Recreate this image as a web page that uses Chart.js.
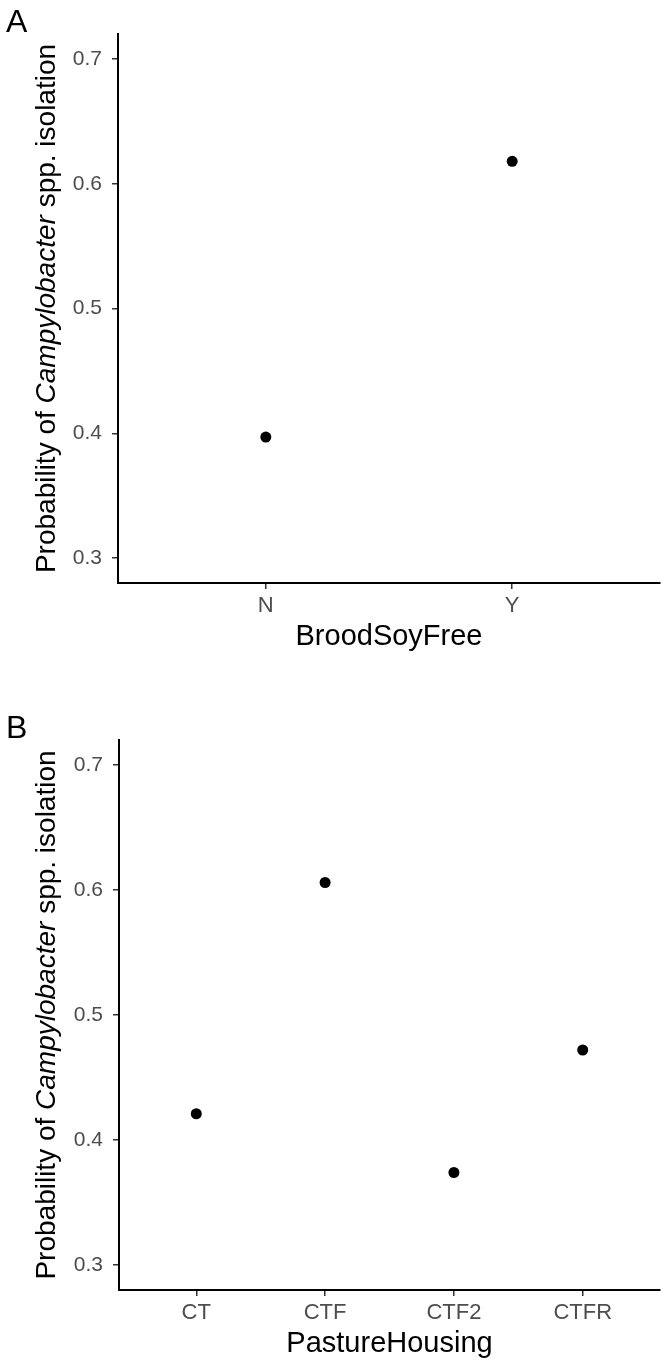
<!DOCTYPE html>
<html>
<head>
<meta charset="utf-8">
<script src="https://cdn.jsdelivr.net/npm/chart.js@4.4.1/dist/chart.umd.min.js"></script>
<style>
  body { margin: 0; background: #fff; }
  canvas { position: absolute; left: 0; }
</style>
</head>
<body>
<canvas id="painelA" width="666" height="665" style="top:0px"></canvas>
<canvas id="painelB" width="666" height="686" style="top:680px"></canvas>
<script>
// panel A
const broodCats = ['N', 'Y'];
const broodProb = [0.397, 0.618];
// panel B
const pastureCats = ['CT', 'CTF', 'CTF2', 'CTFR'];
const pastureProb = [0.421, 0.606, 0.374, 0.472];

const yTicks = [0.3, 0.4, 0.5, 0.6, 0.7];
const yTitle = [
    { text: 'Probability of ', italic: false },
    { text: 'Campylobacter', italic: true },
    { text: ' spp. isolation', italic: false },
];

const FONTE = '"Liberation Sans", Arial, sans-serif';

// y title has an italic word, so it is drawn here instead of by the scale
const tituloY = {
    id: 'tituloY',
    afterDraw(chart, args, opts) {
        const ctx = chart.ctx;
        const area = chart.chartArea;
        ctx.save();
        ctx.fillStyle = '#000';
        ctx.textBaseline = 'alphabetic';
        ctx.textAlign = 'left';
        ctx.font = '32px ' + FONTE;
        ctx.fillText(opts.letra, opts.letraX, opts.letraY);

        let total = 0;
        yTitle.forEach((p) => {
            ctx.font = (p.italic ? 'italic ' : '') + '28px ' + FONTE;
            p.w = ctx.measureText(p.text).width;
            total += p.w;
        });
        ctx.translate(opts.tituloX, (area.top + area.bottom) / 2);
        ctx.rotate(-Math.PI / 2);
        let x = -total / 2;
        yTitle.forEach((p) => {
            ctx.font = (p.italic ? 'italic ' : '') + '28px ' + FONTE;
            ctx.fillText(p.text, x, 0);
            x += p.w;
        });
        ctx.restore();
    }
};

function criarPainel(canvasID, cats, probs, xTitulo, cfg) {
    return new Chart(document.getElementById(canvasID), {
        type: 'scatter',
        plugins: [tituloY],
        data: {
            datasets: [{
                data: probs.map((p, i) => ({ x: i + 1, y: p })),
                backgroundColor: '#000',
                borderWidth: 0,
                pointRadius: 5.5,
            }]
        },
        options: {
            responsive: false,
            animation: false,
            devicePixelRatio: 1,
            layout: { padding: { top: cfg.topo, right: 6, left: 0, bottom: 0 } },
            plugins: {
                legend: { display: false },
                tooltip: { enabled: false },
                tituloY: { letra: cfg.letra, letraX: 6, letraY: cfg.letraY, tituloX: 55 },
            },
            scales: {
                x: {
                    type: 'linear',
                    min: 0.4,
                    max: cats.length + 0.6,
                    afterBuildTicks: (s) => { s.ticks = cats.map((c, i) => ({ value: i + 1 })); },
                    afterFit: (s) => { s.height = cfg.alturaX; },
                    ticks: {
                        callback: (v) => cats[v - 1],
                        color: '#4d4d4d',
                        font: { family: FONTE, size: 22 },
                        padding: 4,
                        maxRotation: 0,
                    },
                    grid: { drawOnChartArea: false, tickLength: 6, color: '#333', lineWidth: 1.5 },
                    border: { color: '#000', width: 2 },
                    title: {
                        display: true,
                        text: xTitulo,
                        color: '#000',
                        font: { family: FONTE, size: 29 },
                        padding: { top: 0, bottom: cfg.padTitulo },
                    },
                },
                y: {
                    min: 0.28,
                    max: 0.72,
                    afterBuildTicks: (s) => { s.ticks = yTicks.map((v) => ({ value: v })); },
                    afterFit: (s) => { s.width = cfg.larguraY; },
                    ticks: {
                        callback: (v) => v.toFixed(1),
                        color: '#4d4d4d',
                        font: { family: FONTE, size: 21 },
                        padding: 10,
                    },
                    grid: { drawOnChartArea: false, tickLength: 6, color: '#333', lineWidth: 1.5 },
                    border: { color: '#000', width: 2 },
                },
            },
        },
    });
}

criarPainel('painelA', broodCats, broodProb, 'BroodSoyFree',
    { letra: 'A', letraY: 32, topo: 34, alturaX: 82, larguraY: 118, padTitulo: 11 });
criarPainel('painelB', pastureCats, pastureProb, 'PastureHousing',
    { letra: 'B', letraY: 58, topo: 60, alturaX: 76, larguraY: 119, padTitulo: 5 });
</script>
</body>
</html>
